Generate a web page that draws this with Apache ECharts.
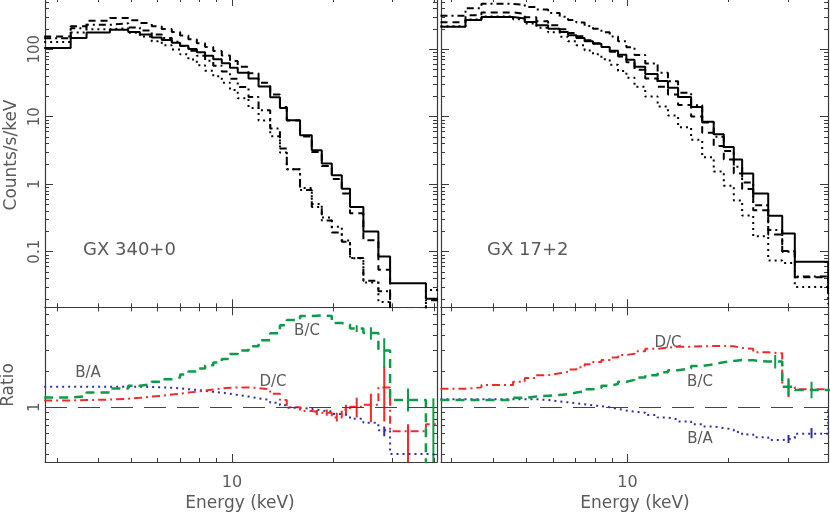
<!DOCTYPE html>
<html><head><meta charset="utf-8">
<script src="https://cdn.jsdelivr.net/npm/echarts@6/dist/echarts.min.js"></script>
<style>html,body{margin:0;padding:0;background:#fff}#c{width:830px;height:513px}</style>
</head><body><div id="c"></div>
<script>
// ---------- DATA ----------
// GX 340+0 (left) energy bin edges, keV
const edgesL = [2.75,3.30,3.68,4.32,4.90,5.31,5.76,6.17,6.61,7.00,7.41,7.85,8.31,8.79,9.32,9.86,10.4,11.2,12.0,13.0,13.9,14.57,15.96,17.3,18.53,19.85,21.26,22.5,24.66,27.34,29.63,37.9,42.0];
const specAL = [104,147,177,195,180,165,150,137,125,113,101,90,80,71,62,53,45,37,28,19.5,13.5,8.9,5.3,3.2,2.03,1.36,0.86,0.46,0.20,0.085,0.034,0.020];
const specBL = [155,219,264,291,268,244,220,200,180,160,141,123,108,94,81,67,55,44,32,21.3,14.0,8.8,5.1,3.0,1.87,1.2,0.73,0.37,0.148,0.054,0.0138,0.008];
const specCL = [128,177,198,205,176,154,132,115,99,84,70.5,58,48,39.7,32,24.9,18.8,13.5,8.8,5.13,2.95,1.66,0.88,0.51,0.32,0.235,0.147,0.080,0.035,0.018,0.012,0.027];
const specDL = [146,204,230,242,211,189,166,147,129,112,95,80,67.7,57.2,46.7,36.6,27.6,19.6,12.5,6.67,3.39,1.66,0.82,0.46,0.29,0.193,0.141,0.081,0.037,0.026,0.0076,0.019];
const ratioBAL = [1.49,1.49,1.49,1.49,1.49,1.48,1.47,1.46,1.44,1.42,1.40,1.37,1.35,1.33,1.30,1.27,1.23,1.19,1.15,1.09,1.04,0.99,0.97,0.94,0.92,0.88,0.85,0.80,0.74,0.64,0.405,0.40];
const ratioBCL = [1.21,1.24,1.33,1.44,1.52,1.56,1.64,1.72,1.78,1.89,2.0,2.12,2.25,2.38,2.55,2.80,3.0,3.25,3.65,4.18,4.9,5.4,5.85,5.9,5.85,5.1,4.95,4.6,4.2,3.0,1.15,0.3];
const ratioDCL = [1.14,1.15,1.16,1.18,1.20,1.23,1.25,1.28,1.30,1.33,1.35,1.38,1.41,1.44,1.46,1.47,1.47,1.45,1.42,1.30,1.15,1.0,0.93,0.90,0.90,0.82,0.96,1.01,1.05,1.47,0.63,0.72];
// error bars: [bin number (1-based), low, high]
const errBAL = [[30,0.57,0.69]];
const errBCL = [[28,4.3,4.9],[29,3.7,4.7],[30,2.15,3.8],[31,0.92,1.44],[32,0.2,1.19]];
const errDCL = [[24,0.86,0.95],[25,0.85,0.96],[26,0.76,0.9],[27,0.86,1.05],[28,0.82,1.2],[29,0.75,1.3],[30,0.76,2.19],[31,0.2,0.72]];

// GX 17+2 (right)
const edgesR = [2.78,3.30,3.68,4.57,4.95,5.36,5.81,6.29,6.66,7.05,7.46,7.90,8.37,8.86,9.38,9.93,10.5,11.3,12.3,13.2,14.15,15.47,16.69,18.06,19.35,20.72,21.94,23.67,26.23,28.87,31.47,39.56,42];
const specAR = [215,272,301,285,254,227,202,180,161,147,131,121,108,95,83,70,55,43,34,27,19.6,14,8.4,5.5,3.57,2.32,1.44,0.73,0.34,0.186,0.0707,0.024];
const specBR = [252,318,352,333,297,261,226,198,174,156,136,123,108,92.2,78,64.4,49.5,37,27.9,21.3,14.9,10.1,5.8,3.69,2.32,1.44,0.85,0.41,0.18,0.102,0.042,0.024];
const specCR = [219,277,306,278,241,209,178,153,131,115,96,84,71,58.7,47.6,37.9,27.8,19.9,14.2,10.4,7.0,4.55,2.52,1.54,0.95,0.576,0.343,0.169,0.074,0.068,0.030,0.017];
const specDR = [313,407,471,456,424,389,344,304,272,250,221,202,178,154,131,107,82,61.7,45,33.5,22.6,14.8,8.24,5.04,3.1,1.81,1.06,0.49,0.21,0.10,0.043,0.024];
const ratioBAR = [1.17,1.17,1.17,1.17,1.17,1.15,1.12,1.10,1.08,1.06,1.04,1.02,1.0,0.97,0.94,0.92,0.90,0.86,0.82,0.79,0.76,0.72,0.69,0.67,0.65,0.62,0.59,0.56,0.53,0.55,0.60,1.0];
const ratioBCR = [1.15,1.15,1.15,1.20,1.23,1.25,1.27,1.29,1.33,1.36,1.42,1.46,1.52,1.57,1.64,1.70,1.78,1.86,1.97,2.05,2.12,2.22,2.30,2.39,2.45,2.50,2.48,2.42,2.42,1.49,1.40,1.40];
const ratioDCR = [1.43,1.47,1.54,1.64,1.76,1.86,1.93,1.99,2.08,2.17,2.30,2.40,2.50,2.62,2.75,2.82,2.95,3.10,3.17,3.22,3.23,3.25,3.27,3.27,3.26,3.15,3.10,2.90,2.84,1.48,1.42,1.42];
const errBAR = [[30,0.50,0.585],[31,0.55,0.67]];
const errBCR = [[29,2.12,2.75],[30,1.25,1.75],[31,1.19,1.64]];
const errDCR = [[30,1.22,1.7]];

// tick values and tick labels
const xMinorTicksL = [3,4,5,6,7,8,9,20,30,40];
const xMinorTicksR = [3,4,5,6,7,8,9,20,30];
const xMajorTicks = [10];
const yCountMajor = [0.1,1,10,100];
const yCountLabels = ['0.1','1','10','100'];
const yCountMinor = [0.02,0.03,0.04,0.05,0.06,0.07,0.08,0.09,0.2,0.3,0.4,0.5,0.6,0.7,0.8,0.9,2,3,4,5,6,7,8,9,20,30,40,50,60,70,80,90,200,300,400,500];
const yRatioMajor = [1];
const yRatioLabels = ['1'];
const yRatioMinor = [0.4,0.5,0.6,0.7,0.8,0.9,2,3,4,5,6];

// ---------- STYLE ----------
const FONT = "'DejaVu Sans', sans-serif";
const TXT = '#5a5a5a';
const FRAME = '#3a3a3a';
const BLUE = '#2f2f9f', GREEN = '#0e9a4a', RED = '#ee2a2a';

const xAxes = [], yAxes = [];
function tick(vals, len) { return {show:true, inside:true, length:len, customValues:vals, lineStyle:{color:FRAME, width:1}}; }
function addAxes(grid, xr, xMinor, showXLabel, yr, yMinor, yMajor) {
  const common = {type:'log', logBase:10, gridIndex:grid, splitLine:{show:false}, axisPointer:{show:false}, silent:true, minorTick:{show:false}};
  const line = {show:true, onZero:false, lineStyle:{color:FRAME, width:1.2}};
  const noLine = {show:false, onZero:false};
  const xi = xAxes.length, yi = yAxes.length;
  xAxes.push(Object.assign({}, common, {min:xr[0], max:xr[1], position:'bottom', axisLine:line, axisTick:tick(xMinor,4),
    axisLabel: showXLabel ? {show:true, customValues:xMajorTicks, margin:13, fontSize:16, color:TXT, fontFamily:FONT, formatter:(v)=>String(Math.round(v))} : {show:false}}));
  xAxes.push(Object.assign({}, common, {min:xr[0], max:xr[1], position:'bottom', axisLine:noLine, axisTick:tick(xMajorTicks,8), axisLabel:{show:false}}));
  xAxes.push(Object.assign({}, common, {min:xr[0], max:xr[1], position:'top', axisLine:line, axisTick:tick(xMinor,4), axisLabel:{show:false}}));
  xAxes.push(Object.assign({}, common, {min:xr[0], max:xr[1], position:'top', axisLine:noLine, axisTick:tick(xMajorTicks,8), axisLabel:{show:false}}));
  yAxes.push(Object.assign({}, common, {min:yr[0], max:yr[1], position:'left', axisLine:line, axisTick:tick(yMinor,4), axisLabel:{show:false}}));
  yAxes.push(Object.assign({}, common, {min:yr[0], max:yr[1], position:'left', axisLine:noLine, axisTick:tick(yMajor,8), axisLabel:{show:false}}));
  yAxes.push(Object.assign({}, common, {min:yr[0], max:yr[1], position:'right', axisLine:line, axisTick:tick(yMinor,4), axisLabel:{show:false}}));
  yAxes.push(Object.assign({}, common, {min:yr[0], max:yr[1], position:'right', axisLine:noLine, axisTick:tick(yMajor,8), axisLabel:{show:false}}));
  return [xi, yi];
}

const xRangeL = [2.766, 40.9], xRangeR = [2.79, 39.5];
const yCountRange = [0.0150, 575], yRatioRange = [0.347, 6.92];

const aTL = addAxes(0, xRangeL, xMinorTicksL, false, yCountRange, yCountMinor, yCountMajor);
const aTR = addAxes(1, xRangeR, xMinorTicksR, false, yCountRange, yCountMinor, yCountMajor);
const aBL = addAxes(2, xRangeL, xMinorTicksL, true, yRatioRange, yRatioMinor, yRatioMajor);
const aBR = addAxes(3, xRangeR, xMinorTicksR, true, yRatioRange, yRatioMinor, yRatioMajor);

function stepData(edges, vals) {
  const d = vals.map((v, i) => [edges[i], v]);
  d.push([edges[vals.length], vals[vals.length - 1]]);
  return d;
}
function stepSeries(edges, vals, ax, color, type, width, extra) {
  return Object.assign({type:'line', xAxisIndex:ax[0], yAxisIndex:ax[1], data:stepData(edges, vals), step:'end',
    symbol:'none', showSymbol:false, silent:true, animation:false, clip:true,
    lineStyle:{color:color, width:width, type:type}}, extra || {});
}
function errSeries(edges, errs, ax, color) {
  return {type:'custom', xAxisIndex:ax[0], yAxisIndex:ax[1], silent:true, animation:false, clip:true,
    data: errs.map(e => [Math.sqrt(edges[e[0]-1] * edges[e[0]]), e[1], e[2]]),
    renderItem: (params, api) => {
      const cs = params.coordSys;
      const clampY = (y) => Math.max(cs.y, Math.min(cs.y + cs.height, y));
      const p1 = api.coord([api.value(0), api.value(1)]);
      const p2 = api.coord([api.value(0), api.value(2)]);
      return {type:'line', shape:{x1:p1[0], y1:clampY(p1[1]), x2:p2[0], y2:clampY(p2[1])}, style:{stroke:color, lineWidth:2}};
    }};
}
const unity = {silent:true, symbol:['none','none'], label:{show:false}, animation:false,
  lineStyle:{color:'#444', type:[22,11], width:1}, data:[{yAxis:1}]};

const series = [
  stepSeries(edgesL, specCL, aTL, '#000', [2,4], 2),
  stepSeries(edgesL, specDL, aTL, '#000', [7,4,2,4], 2),
  stepSeries(edgesL, specBL, aTL, '#000', [7,5], 2),
  stepSeries(edgesL, specAL, aTL, '#000', 'solid', 2),
  stepSeries(edgesR, specCR, aTR, '#000', [2,4], 2),
  stepSeries(edgesR, specDR, aTR, '#000', [7,4,2,4], 2),
  stepSeries(edgesR, specBR, aTR, '#000', [7,5], 2),
  stepSeries(edgesR, specAR, aTR, '#000', 'solid', 2),
  stepSeries(edgesL, ratioBAL, aBL, BLUE, [2,4], 2, {markLine:unity}),
  stepSeries(edgesL, ratioDCL, aBL, RED, [8,4,2,4], 2),
  stepSeries(edgesL, ratioBCL, aBL, GREEN, [9,6], 2.5),
  errSeries(edgesL, errBAL, aBL, BLUE),
  errSeries(edgesL, errDCL, aBL, RED),
  errSeries(edgesL, errBCL, aBL, GREEN),
  stepSeries(edgesR, ratioBAR, aBR, BLUE, [2,4], 2, {markLine:unity}),
  stepSeries(edgesR, ratioDCR, aBR, RED, [8,4,2,4], 2),
  stepSeries(edgesR, ratioBCR, aBR, GREEN, [9,6], 2.5),
  errSeries(edgesR, errBAR, aBR, BLUE),
  errSeries(edgesR, errDCR, aBR, RED),
  errSeries(edgesR, errBCR, aBR, GREEN)
];

function txt(x, y, text, size, rot, align) {
  return {type:'text', x:x, y:y, rotation:rot || 0, silent:true,
    style:{text:text, fill:TXT, fontSize:size, fontFamily:FONT, align:align || 'center', textAlign:align || 'center', verticalAlign:'middle', textVerticalAlign:'middle'}};
}

const chart = echarts.init(document.getElementById('c'), null, {renderer:'canvas'});
chart.setOption({
  animation:false,
  backgroundColor:'#fff',
  grid:[
    {left:45, top:-2, width:392, height:309.3, outerBoundsMode:'none'},
    {left:441, top:-2, width:387, height:309.3, outerBoundsMode:'none'},
    {left:45, top:307.3, width:392, height:154.7, outerBoundsMode:'none'},
    {left:441, top:307.3, width:387, height:154.7, outerBoundsMode:'none'}
  ],
  xAxis: xAxes,
  yAxis: yAxes,
  series: series
});

// rotated (IDL style) y tick labels, positioned through the axis scale
const tickLabels = [];
yCountMajor.forEach((v, i) => {
  const y = chart.convertToPixel({yAxisIndex: aTL[1]}, v);
  tickLabels.push(txt(35, y, yCountLabels[i], 15, Math.PI/2));
});
yRatioMajor.forEach((v, i) => {
  const y = chart.convertToPixel({yAxisIndex: aBL[1]}, v);
  tickLabels.push(txt(35, y, yRatioLabels[i], 15, Math.PI/2));
});

chart.setOption({
  graphic: tickLabels.concat([
    txt(12, 155, 'Counts/s/keV', 17, Math.PI/2),
    txt(9, 385, 'Ratio', 17, Math.PI/2),
    txt(240, 504, 'Energy (keV)', 17),
    txt(635, 504, 'Energy (keV)', 17),
    txt(83, 250, 'GX 340+0', 18, 0, 'left'),
    txt(487, 250, 'GX 17+2', 18, 0, 'left'),
    txt(88, 373, 'B/A', 15),
    txt(307, 331, 'B/C', 15),
    txt(273, 382, 'D/C', 15),
    txt(668, 343, 'D/C', 15),
    txt(700, 382, 'B/C', 15),
    txt(700, 439, 'B/A', 15)
  ])
});
</script></body></html>
